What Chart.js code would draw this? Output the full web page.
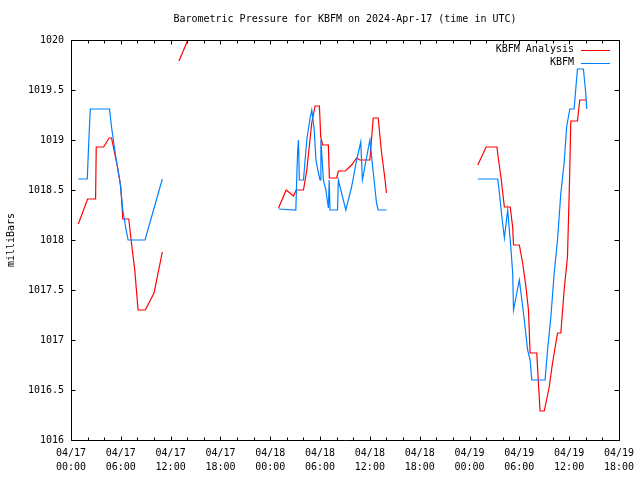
<!DOCTYPE html>
<html><head><meta charset="utf-8">
<script src="https://cdn.jsdelivr.net/npm/chart.js@4/dist/chart.umd.min.js"></script>
<style>html,body{margin:0;padding:0;background:#fff}canvas{display:block}</style>
</head><body>
<canvas id="c" width="640" height="480"></canvas>
<script>
const titleText = 'Barometric Pressure for KBFM on 2024-Apr-17 (time in UTC)';
const yAxisTitle = 'milliBars';
const seriesNames = ['KBFM Analysis', 'KBFM'];
const seriesColors = ['#ff0000', '#0080ff'];
const xTickLabels = [
  ['04/17','00:00'],['04/17','06:00'],['04/17','12:00'],['04/17','18:00'],
  ['04/18','00:00'],['04/18','06:00'],['04/18','12:00'],['04/18','18:00'],
  ['04/19','00:00'],['04/19','06:00'],['04/19','12:00'],['04/19','18:00']
];
const yMin = 1016, yMax = 1020, yStep = 0.5;
const xMaxHours = 66;

// hours since 04/17 00:00 UTC
const analysisHours = [0.88,2.0,2.96,3.04,3.92,4.6,4.88,5.6,6.0,6.24,6.96,7.28,7.68,8.08,8.96,10.0,11.0,12.0,
  13.0,14.08,15.0,16.0,
  25.0,25.92,26.8,27.12,28.0,28.4,29.0,29.4,29.92,30.08,30.32,31.0,31.12,32.0,32.2,33.04,33.8,34.4,34.8,35.1,36.0,36.4,37.0,37.4,37.8,38.0,39.0,
  49.0,50.0,51.3,51.5,51.8,52.2,52.9,53.2,53.3,54.0,54.4,54.8,55.1,55.3,56.1,56.3,56.5,57.0,57.6,58.0,58.6,59.0,59.4,59.8,60.05,60.2,61.0,61.28,62.12];
const analysisValues = [1018.16,1018.41,1018.41,1018.93,1018.93,1019.02,1019.02,1018.73,1018.53,1018.21,1018.21,1017.97,1017.7,1017.3,1017.3,1017.47,1017.88,null,
  1019.79,1020.0,1020.2,null,
  1018.32,1018.5,1018.44,1018.5,1018.5,1018.7,1019.17,1019.34,1019.34,1019.03,1018.95,1018.95,1018.62,1018.62,1018.69,1018.69,1018.75,1018.82,1018.8,1018.8,1018.8,1019.22,1019.22,1018.88,1018.62,1018.47,null,
  1018.75,1018.93,1018.93,1018.8,1018.62,1018.33,1018.33,1018.13,1017.95,1017.95,1017.77,1017.53,1017.3,1016.87,1016.87,1016.57,1016.29,1016.29,1016.53,1016.77,1017.07,1017.07,1017.5,1017.83,1018.6,1019.19,1019.19,1019.4,1019.4];

const obsHours = [0.88,1.96,2.1,2.32,4.64,4.88,5.4,5.92,6.24,6.64,6.88,8.92,11.0,12.0,
  25.0,27.08,27.2,27.3,27.4,27.5,28.0,28.4,28.8,29.0,29.3,29.5,29.8,30.0,30.1,30.4,30.7,31.0,31.1,31.2,32.1,32.2,33.1,33.8,34.4,34.9,35.1,35.5,36.0,36.4,36.8,37.0,38.0,39.0,
  49.0,51.4,51.6,51.9,52.2,52.6,52.9,53.0,53.2,53.3,54.0,54.2,54.6,55.0,55.3,55.5,57.1,57.4,57.8,58.2,58.6,59.0,59.4,59.7,60.08,60.6,61.0,61.72,62.0,62.12];
const obsValues = [1018.61,1018.61,1018.9,1019.31,1019.31,1019.13,1018.83,1018.57,1018.3,1018.1,1018.0,1018.0,1018.61,null,
  1018.31,1018.3,1018.64,1018.89,1019.0,1018.6,1018.6,1019.0,1019.22,1019.3,1019.1,1018.8,1018.67,1018.6,1019.0,1018.6,1018.5,1018.32,1018.6,1018.3,1018.3,1018.6,1018.3,1018.53,1018.8,1018.98,1018.6,1018.78,1019.0,1018.68,1018.37,1018.3,1018.3,null,
  1018.61,1018.61,1018.47,1018.23,1018.02,1018.3,1018.0,1017.9,1017.67,1017.3,1017.6,1017.47,1017.2,1016.9,1016.8,1016.6,1016.6,1016.9,1017.23,1017.67,1018.0,1018.47,1018.77,1019.13,1019.31,1019.31,1019.71,1019.71,1019.47,1019.31];

function toPoints(hs, vs){ return hs.map((h,i)=>({x:h, y:vs[i]})); }

const FONT = '10px "DejaVu Sans Mono"';

const framePlugin = {
  id: 'gnuframe',
  afterDraw(chart){
    const ctx = chart.ctx, a = chart.chartArea;
    const xs = chart.scales.x, ys = chart.scales.y;
    ctx.save();
    ctx.strokeStyle = '#000'; ctx.lineWidth = 1;
    const L = Math.round(a.left)+0.5, R = Math.round(a.right)+0.5, T = Math.round(a.top)+0.5, B = Math.round(a.bottom)+0.5;
    ctx.beginPath();
    ctx.rect(L, T, R-L, B-T);
    // x ticks every 2h (major every 6h)
    for (let h=0; h<=xMaxHours; h+=2){
      const px = Math.round(xs.getPixelForValue(h))+0.5;
      const len = (h%6===0)?4:3;
      ctx.moveTo(px, B); ctx.lineTo(px, B-len);
      ctx.moveTo(px, T); ctx.lineTo(px, T+len);
    }
    for (let v=yMin; v<=yMax+1e-9; v+=yStep){
      const py = Math.round(ys.getPixelForValue(v))+0.5;
      ctx.moveTo(L, py); ctx.lineTo(L+4, py);
      ctx.moveTo(R, py); ctx.lineTo(R-5, py);
    }
    ctx.stroke();
    // title
    ctx.fillStyle = '#000'; ctx.font = FONT;
    ctx.textAlign = 'center'; ctx.textBaseline = 'middle';
    ctx.fillText(titleText, (a.left+a.right)/2, 19);
    // y axis title
    ctx.save();
    ctx.translate(11, (a.top+a.bottom)/2);
    ctx.rotate(-Math.PI/2);
    ctx.fillText(yAxisTitle, 0, 0);
    ctx.restore();
    // legend
    ctx.textAlign = 'right';
    const ly = [49.5, 62.5];
    seriesNames.forEach((n,i)=>{
      ctx.fillStyle = '#000';
      ctx.fillText(n, 574, ly[i]);
      ctx.strokeStyle = seriesColors[i];
      ctx.beginPath();
      ctx.moveTo(581, Math.round(ly[i])+0.5); ctx.lineTo(610, Math.round(ly[i])+0.5);
      ctx.stroke();
    });
    ctx.restore();
  }
};

new Chart(document.getElementById('c'), {
  type: 'line',
  data: {
    datasets: [
      { label: seriesNames[1], data: toPoints(obsHours, obsValues), borderColor: seriesColors[1], borderWidth: 1.2, pointRadius: 0, tension: 0, spanGaps: false, fill: false },
      { label: seriesNames[0], data: toPoints(analysisHours, analysisValues), borderColor: seriesColors[0], borderWidth: 1.2, pointRadius: 0, tension: 0, spanGaps: false, fill: false }
    ]
  },
  options: {
    responsive: false, animation: false, devicePixelRatio: 1,
    layout: { padding: { top: 40, right: 19, left: 0, bottom: 0 } },
    plugins: { legend: { display: false }, title: { display: false }, tooltip: { enabled: false } },
    scales: {
      x: {
        type: 'linear', min: 0, max: xMaxHours,
        grid: { display: false, drawTicks: false }, border: { display: false },
        ticks: { stepSize: 6, autoSkip: false, maxRotation: 0, padding: 6, color: '#000',
          font: { family: 'DejaVu Sans Mono', size: 10, lineHeight: 1.4 },
          callback: (v) => xTickLabels[Math.round(v/6)] },
        afterFit: (s) => { s.height = 40; }
      },
      y: {
        type: 'linear', min: yMin, max: yMax,
        grid: { display: false, drawTicks: false }, border: { display: false },
        ticks: { stepSize: yStep, padding: 7, color: '#000',
          font: { family: 'DejaVu Sans Mono', size: 10 },
          callback: (v) => String(v) },
        afterFit: (s) => { s.width = 71; }
      }
    }
  },
  plugins: [framePlugin]
});
</script>
</body></html>
